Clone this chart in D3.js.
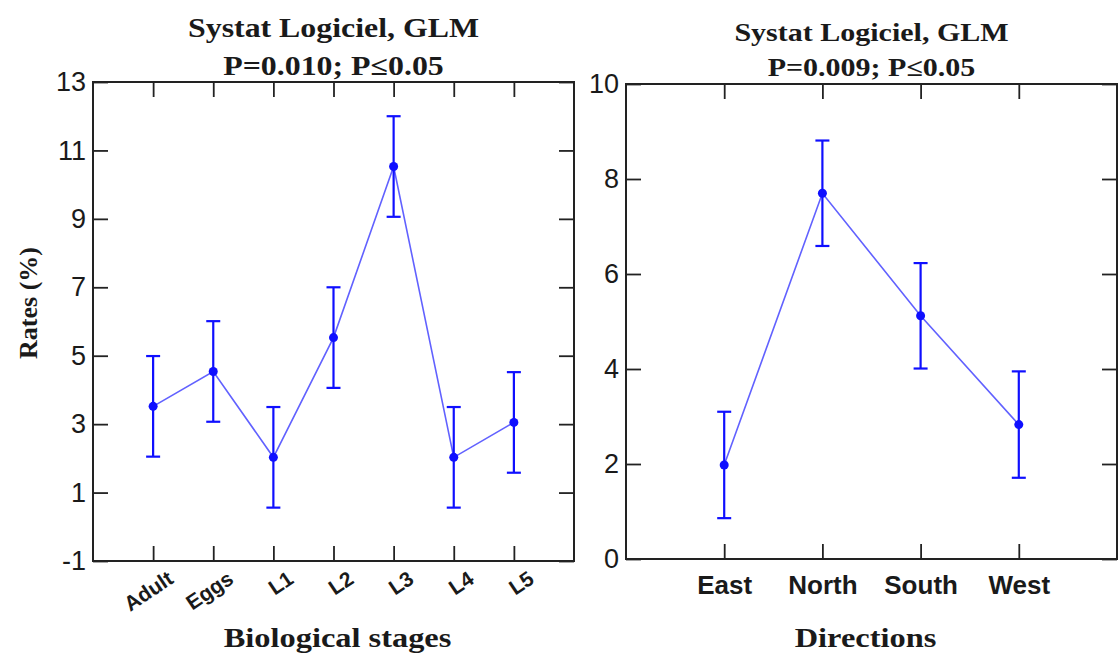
<!DOCTYPE html>
<html>
<head>
<meta charset="utf-8">
<script src="https://cdn.jsdelivr.net/npm/d3@7"></script>
<style>
body { margin: 0; background: #fff; }
svg text { fill: #1a1a1a; }
.title, .axis-title { font-family: "Liberation Serif", "Times New Roman", serif; font-weight: bold; }
.tick text { font-family: "Liberation Sans", Arial, sans-serif; }
</style>
</head>
<body>
<div id="chart"></div>
<script>

// left panel : biological stages
var stages = ["Adult", "Eggs", "L1", "L2", "L3", "L4", "L5"];
var stageMeans = [3.52, 4.54, 2.03, 5.53, 10.53, 2.03, 3.05];
var stageErrors = [1.47, 1.47, 1.47, 1.47, 1.47, 1.47, 1.47];
var stageTicks = [-1, 1, 3, 5, 7, 9, 11, 13];

// right panel : directions
var directions = ["East", "North", "South", "West"];
var directionMeans = [1.98, 7.7, 5.12, 2.83];
var directionErrors = [1.12, 1.11, 1.11, 1.12];
var directionTicks = [0, 2, 4, 6, 8, 10];

var svg = d3.select("#chart").append("svg")
	.attr("width", 1120)
	.attr("height", 655);

// serif labels in the source are drawn wide, so stretch them a bit
function wideText(g, x, y, size, stretch, str, cls){
	return g.append("text")
		.attr("class", cls)
		.attr("text-anchor", "middle")
		.attr("transform", "translate(" + x + "," + y + ") scale(" + stretch + ",1)")
		.style("font-size", size + "px")
		.text(str);
}

/*
 * ErrorChart - one panel, mean +/- error per category
 */
ErrorChart = function(_svg, _config){
	this.svg = _svg;
	this.config = _config;
	this.displayData = [];

	this.initVis();
};

ErrorChart.prototype.initVis = function(){
	var vis = this;
	var c = vis.config;

	vis.width = c.box.x1 - c.box.x0;
	vis.height = c.box.y1 - c.box.y0;

	vis.g = vis.svg.append("g")
		.attr("transform", "translate(" + c.box.x0 + "," + c.box.y0 + ")");

	vis.x = d3.scalePoint()
		.domain(c.categories)
		.range([0, vis.width])
		.padding(1);

	vis.y = d3.scaleLinear()
		.domain(c.yDomain)
		.range([vis.height, 0]);

	// axes, ticks pointing inward on all four sides
	var tl = 15;
	vis.g.append("g")
		.attr("class", "axis")
		.call(d3.axisLeft(vis.y).tickValues(c.yTicks).tickSize(-tl).tickPadding(7)
			.tickFormat(function(d) { return String(d); }));
	vis.g.append("g")
		.attr("class", "axis")
		.attr("transform", "translate(" + vis.width + ",0)")
		.call(d3.axisRight(vis.y).tickValues(c.yTicks).tickSize(-tl).tickFormat(""));
	vis.g.append("g")
		.attr("class", "axis")
		.call(d3.axisTop(vis.x).tickSize(-tl).tickFormat(""));
	vis.xAxisG = vis.g.append("g")
		.attr("class", "axis")
		.attr("transform", "translate(0," + vis.height + ")")
		.call(d3.axisBottom(vis.x).tickSize(-tl).tickPadding(17));

	vis.g.selectAll(".axis .domain").remove();
	vis.g.selectAll(".axis .tick line")
		.attr("stroke", "#222")
		.attr("stroke-width", 1.8);
	vis.g.selectAll(".axis .tick text")
		.attr("fill", "#1a1a1a")
		.style("font-size", "27px");

	if (c.rotateLabels) {
		vis.xAxisG.selectAll(".tick text")
			.attr("y", null)
			.attr("dy", "0.35em")
			.attr("text-anchor", "end")
			.attr("transform", "translate(17,15) rotate(-34)")
			.style("font-size", "21px")
			.style("font-weight", "bold");
	} else {
		vis.xAxisG.selectAll(".tick text")
			.style("font-size", "26px")
			.style("font-weight", "bold");
	}

	// frame
	vis.g.append("rect")
		.attr("width", vis.width)
		.attr("height", vis.height)
		.attr("fill", "none")
		.attr("stroke", "#222")
		.attr("stroke-width", 2);

	// titles
	wideText(vis.g, vis.width / 2, c.titleY[0] - c.box.y0, c.titleSize, c.titleStretch, c.title[0], "title");
	wideText(vis.g, vis.width / 2, c.titleY[1] - c.box.y0, c.titleSize, c.titleStretch, c.title[1], "title");

	wideText(vis.g, vis.width / 2 + c.xLabelShift, 647 - c.box.y0, 27, 1.2, c.xLabel, "axis-title");

	if (c.yLabel) {
		vis.g.append("text")
			.attr("class", "axis-title")
			.attr("transform", "translate(" + (37 - c.box.x0) + "," + (303 - c.box.y0) + ") rotate(-90)")
			.attr("text-anchor", "middle")
			.style("font-size", "26px")
			.text(c.yLabel);
	}

	vis.wrangleData();
};

ErrorChart.prototype.wrangleData = function(){
	var vis = this;
	var c = vis.config;

	vis.displayData = c.categories.map(function(d, i){
		return { key: d, mean: c.means[i], err: c.errors[i] };
	});

	vis.updateVis();
};

ErrorChart.prototype.updateVis = function(){
	var vis = this;
	var blue = "#0f0fff";
	var cap = 7;

	var line = d3.line()
		.x(function(d) { return vis.x(d.key); })
		.y(function(d) { return vis.y(d.mean); });

	vis.g.append("path")
		.datum(vis.displayData)
		.attr("d", line)
		.attr("fill", "none")
		.attr("stroke", "#3a3aff")
		.attr("stroke-opacity", 0.8)
		.attr("stroke-width", 1.6);

	var bars = vis.g.selectAll(".err")
		.data(vis.displayData)
		.enter().append("g")
		.attr("class", "err")
		.attr("stroke", blue)
		.attr("stroke-width", 2.2);

	bars.append("line")
		.attr("x1", function(d) { return vis.x(d.key); })
		.attr("x2", function(d) { return vis.x(d.key); })
		.attr("y1", function(d) { return vis.y(d.mean - d.err); })
		.attr("y2", function(d) { return vis.y(d.mean + d.err); });
	bars.append("line")
		.attr("x1", function(d) { return vis.x(d.key) - cap; })
		.attr("x2", function(d) { return vis.x(d.key) + cap; })
		.attr("y1", function(d) { return vis.y(d.mean + d.err); })
		.attr("y2", function(d) { return vis.y(d.mean + d.err); });
	bars.append("line")
		.attr("x1", function(d) { return vis.x(d.key) - cap; })
		.attr("x2", function(d) { return vis.x(d.key) + cap; })
		.attr("y1", function(d) { return vis.y(d.mean - d.err); })
		.attr("y2", function(d) { return vis.y(d.mean - d.err); });

	vis.g.selectAll(".dot")
		.data(vis.displayData)
		.enter().append("circle")
		.attr("class", "dot")
		.attr("cx", function(d) { return vis.x(d.key); })
		.attr("cy", function(d) { return vis.y(d.mean); })
		.attr("r", 4.5)
		.attr("fill", blue);
};

var stageChart = new ErrorChart(svg, {
	box: { x0: 93, y0: 82, x1: 574, y1: 561 },
	categories: stages,
	means: stageMeans,
	errors: stageErrors,
	yDomain: [-1, 13],
	yTicks: stageTicks,
	rotateLabels: true,
	title: ["Systat Logiciel, GLM", "P=0.010; P\u22640.05"],
	titleY: [37, 75],
	titleSize: 27,
	titleStretch: 1.18,
	xLabel: "Biological stages",
	xLabelShift: 4,
	yLabel: "Rates (%)"
});

var directionChart = new ErrorChart(svg, {
	box: { x0: 626, y0: 84, x1: 1117, y1: 559 },
	categories: directions,
	means: directionMeans,
	errors: directionErrors,
	yDomain: [0, 10],
	yTicks: directionTicks,
	rotateLabels: false,
	title: ["Systat Logiciel, GLM", "P=0.009; P\u22640.05"],
	titleY: [41, 76],
	titleSize: 25,
	titleStretch: 1.2,
	xLabel: "Directions",
	xLabelShift: -6,
	yLabel: null
});

</script>
</body>
</html>
